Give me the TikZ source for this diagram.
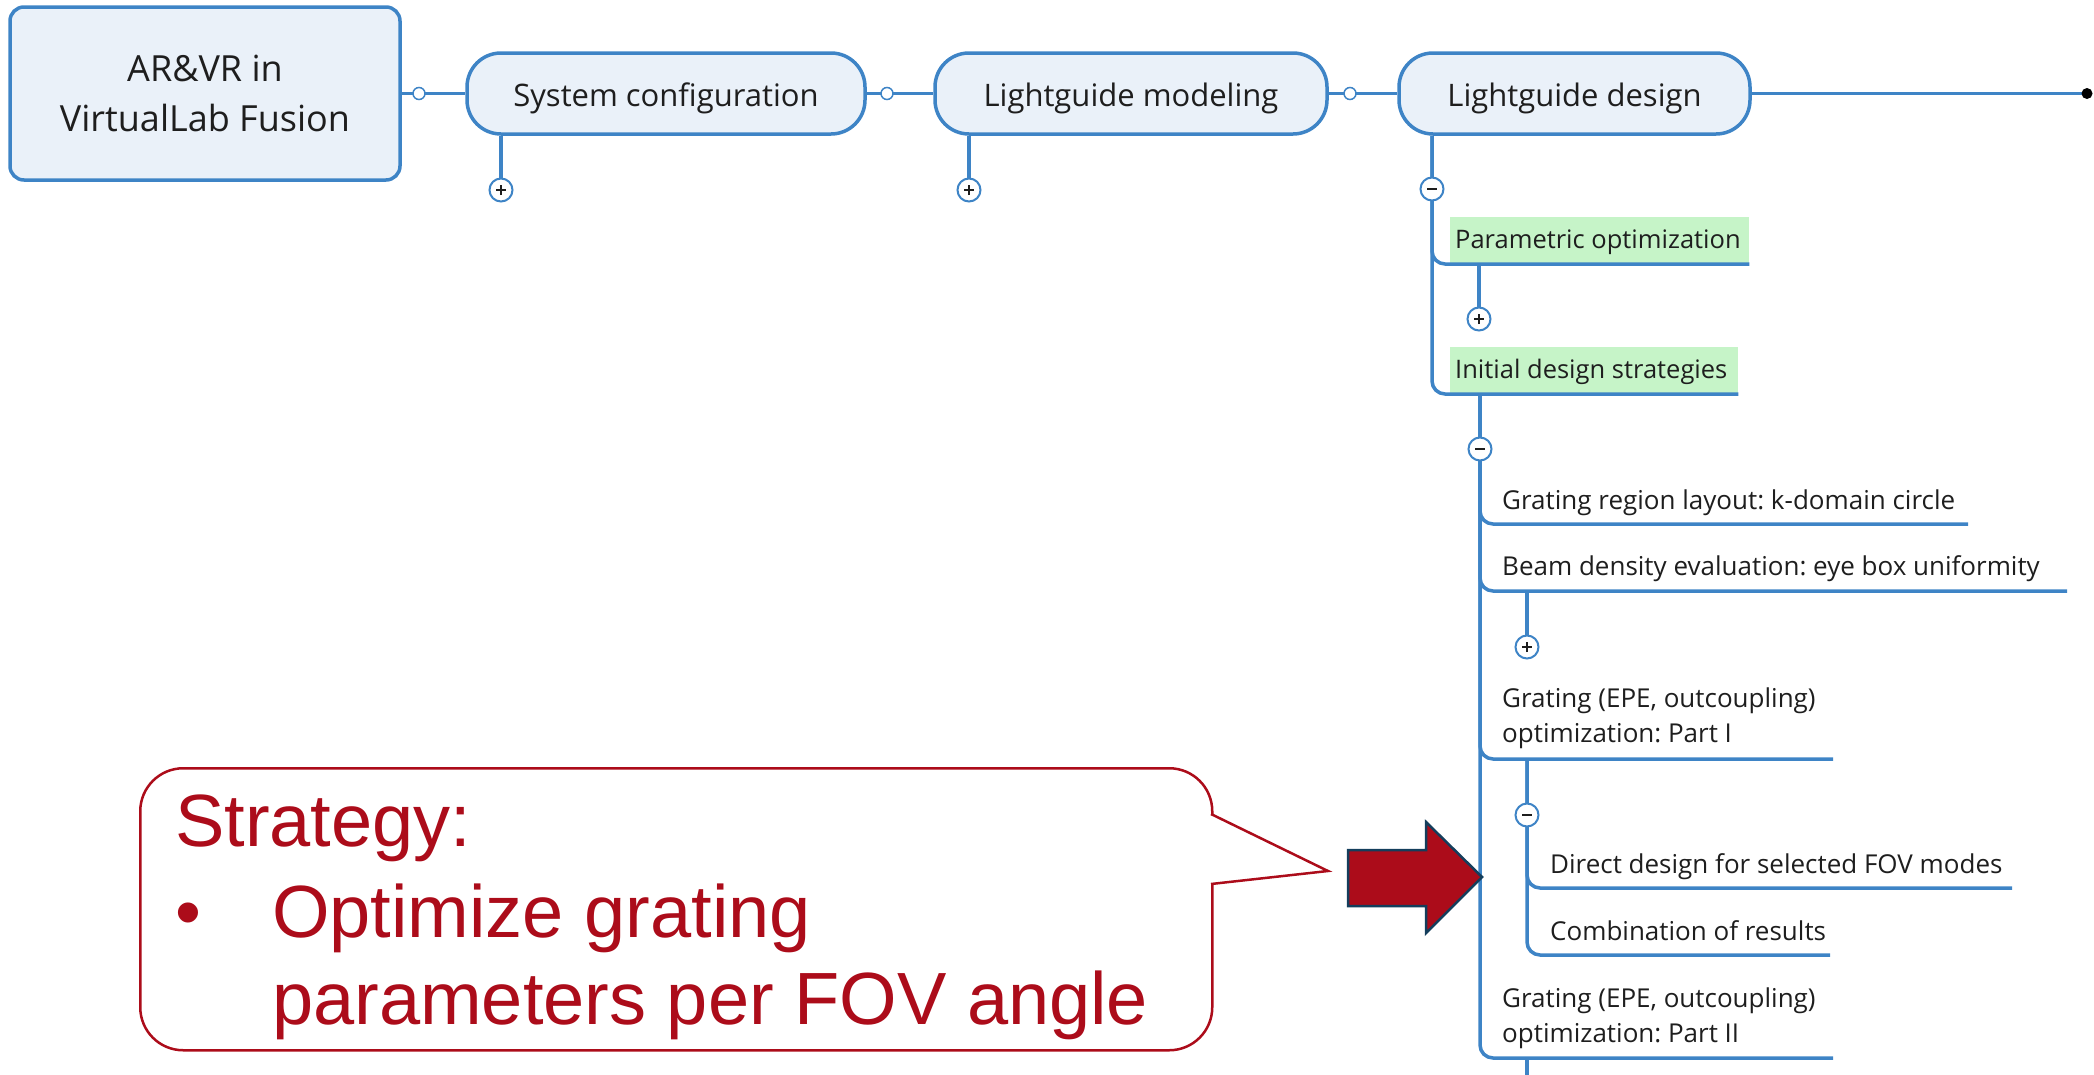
\documentclass[tikz,border=0pt]{standalone}
\usepackage{fontspec}
\setmainfont{Open Sans}
\newfontfamily\calloutfont{Liberation Sans}
\definecolor{lblue}{RGB}{62,132,198}
\definecolor{boxfill}{RGB}{234,241,249}
\definecolor{greenc}{RGB}{198,244,200}
\definecolor{txtc}{RGB}{30,30,30}
\definecolor{redc}{RGB}{172,12,26}
\definecolor{arrowline}{RGB}{20,62,92}
\frenchspacing
\begin{document}
\begin{tikzpicture}[x=1pt,y=-1pt,
  link/.style={draw=lblue, line width=3.5pt},
  bendlink/.style={link, rounded corners=13pt},
  topbox/.style={draw=lblue, line width=3.5pt, fill=boxfill, rounded corners=34pt, minimum height=81pt, inner sep=0pt, text height=25pt, text depth=0pt, text=txtc, font=\fontsize{31}{37}\selectfont},
  rootbox/.style={draw=lblue, line width=3.5pt, fill=boxfill, rounded corners=14pt, minimum width=390pt, minimum height=173pt, align=center, text=txtc, font=\fontsize{36}{50}\selectfont},
  joint/.style={circle, draw=lblue, fill=white, line width=1.5pt, minimum size=12pt, inner sep=0pt},
  enddot/.style={circle, fill=black, minimum size=11pt, inner sep=0pt},
  toggle/.style={circle, draw=lblue, fill=white, line width=2pt, minimum size=23pt, inner sep=0pt},
  plusbox/.style={toggle, path picture={\draw[line width=1.8pt, txtc] ([xshift=-5pt]path picture bounding box.center) -- ([xshift=5pt]path picture bounding box.center) ([yshift=-5pt]path picture bounding box.center) -- ([yshift=5pt]path picture bounding box.center);}},
  minusbox/.style={toggle, path picture={\draw[line width=1.8pt, txtc] ([xshift=-5pt]path picture bounding box.center) -- ([xshift=5pt]path picture bounding box.center);}},
  topic/.style={fill=greenc, anchor=south west, inner xsep=5pt, inner ysep=0pt, minimum height=47pt, text height=20pt, text depth=3pt, text=txtc, font=\fontsize{25.5}{30}\selectfont},
  item/.style={anchor=base west, inner sep=0pt, text=txtc, font=\fontsize{26}{35.5}\selectfont},
  calltext/.style={anchor=base west, inner sep=0pt, text=redc, font=\calloutfont\fontsize{74}{88}\selectfont},
]
\useasboundingbox (0,0) rectangle (2094,1074);

% ---------- top row ----------
\node[rootbox] (root) at (205,93.5) {AR\&VR in\\VirtualLab Fusion};
\node[topbox, minimum width=398pt] (sc) at (666,93.5) {System configuration};
\node[topbox, minimum width=392pt] (lgm) at (1131,93.5) {Lightguide modeling};
\node[topbox, minimum width=351pt] (lgd) at (1574.5,93.5) {Lightguide design};

% ---------- green topics ----------
\node[topic] (po) at (1450,264) {\makebox[289pt][l]{Parametric optimization}};
\node[topic] (ids) at (1450,394) {\makebox[278pt][l]{Initial design strategies}};

% ---------- items ----------
\node[item] (gr) at (1502,509) {Grating region layout: k-domain circle};
\node[item] (be) at (1502,575) {Beam density evaluation: eye box uniformity};
\node[item] (p1) at (1502,707) {\begin{tabular}[t]{@{}l@{}}Grating (EPE, outcoupling)\\optimization: Part I\end{tabular}};
\node[item] (dd) at (1550,873) {Direct design for selected FOV modes};
\node[item] (cr) at (1550,940) {Combination of results};
\node[item] (p2) at (1502,1007) {\begin{tabular}[t]{@{}l@{}}Grating (EPE, outcoupling)\\optimization: Part II\end{tabular}};

% ---------- coordinates ----------
\coordinate (j1) at (419,93.5);
\coordinate (j2) at (887,93.5);
\coordinate (j3) at (1350,93.5);
\coordinate (dot) at (2087,93.5);
\coordinate (t1) at (501,190);
\coordinate (t2) at (969,190);
\coordinate (t3) at (1432,189);
\coordinate (t4) at (1479,319);
\coordinate (t5) at (1480,449);
\coordinate (t6) at (1527,647);
\coordinate (t7) at (1527,815);
\coordinate (grE) at (1968,524);
\coordinate (beE) at (2067,591);
\coordinate (p1E) at (1833,759);
\coordinate (ddE) at (2012,888);
\coordinate (crE) at (1830,955);
\coordinate (p2E) at (1833,1058);
\coordinate (v3end) at (1527,1080);

% ---------- connectors ----------
\draw[link] (root.east) -- (sc.west);
\draw[link] (sc.east) -- (lgm.west);
\draw[link] (lgm.east) -- (lgd.west);
\draw[link] (lgd.east) -- (dot);
\draw[link] (sc.south -| t1) -- (t1);
\draw[link] (lgm.south -| t2) -- (t2);
\draw[bendlink] (lgd.south -| t3) |- (po.south east);
\draw[bendlink] (lgd.south -| t3) |- (ids.south east);
\draw[link] (po.south -| t4) -- (t4);
\draw[bendlink] (ids.south -| t5) |- (grE);
\draw[bendlink] (ids.south -| t5) |- (beE);
\draw[bendlink] (ids.south -| t5) |- (p1E);
\draw[bendlink] (ids.south -| t5) |- (p2E);
\draw[link] (beE -| t6) -- (t6);
\draw[bendlink] (p1E -| t7) |- (ddE);
\draw[bendlink] (p1E -| t7) |- (crE);
\draw[link] (p2E -| v3end) -- (v3end);

% ---------- joints and toggles ----------
\node[joint] (jn1) at (j1) {};
\node[joint] (jn2) at (j2) {};
\node[joint] (jn3) at (j3) {};
\node[enddot] (dn) at (dot) {};
\node[plusbox] (tg1) at (t1) {};
\node[plusbox] (tg2) at (t2) {};
\node[minusbox] (tg3) at (t3) {};
\node[plusbox] (tg4) at (t4) {};
\node[minusbox] (tg5) at (t5) {};
\node[plusbox] (tg6) at (t6) {};
\node[minusbox] (tg7) at (t7) {};

% ---------- callout ----------
\node[draw=redc, line width=2.5pt, fill=white, rounded corners=43pt, minimum width=1072pt, minimum height=282pt, inner sep=0pt, anchor=north west] (callout) at (139,767) {};
\coordinate (pa) at (1211,814);
\coordinate (pb) at (1211,884);
\coordinate (ptip) at (1328,871);
\fill[white] ([xshift=-2pt]pa) -- (ptip) -- ([xshift=-2pt]pb) -- cycle;
\draw[redc, line width=2.5pt, line join=miter] (pa) -- (ptip) -- (pb);
\node[calltext] (cs1) at (175,846) {Strategy:};
\node[calltext] (cs2) at (175,937) {\makebox[97pt][l]{•}Optimize grating};
\node[calltext] (cs3) at (272,1024) {parameters per FOV angle};

% ---------- red arrow ----------
\draw[fill=redc, draw=arrowline, line width=2.5pt, line join=miter]
  (1348,850) -- (1426,850) -- (1426,822) -- (1482,877) -- (1426,933) -- (1426,906) -- (1348,906) -- cycle;
\end{tikzpicture}
\end{document}
